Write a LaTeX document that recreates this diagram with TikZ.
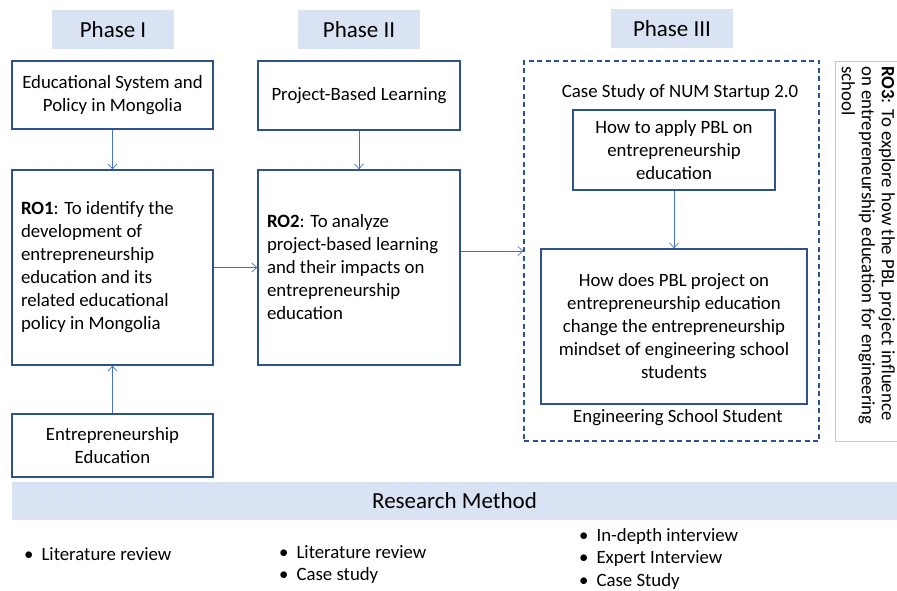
\documentclass[tikz,border=0pt]{standalone}
\usepackage{fontspec}
\setmainfont{Carlito}
\usetikzlibrary{arrows.meta}
\definecolor{azulcaixa}{HTML}{2F528F}
\definecolor{azulseta}{HTML}{4472C4}
\definecolor{azulfase}{HTML}{DAE3F3}
\definecolor{cinzaborda}{HTML}{C8C8C8}
\begin{document}
\begin{tikzpicture}[x=1pt,y=-1pt,
    font=\fontsize{18.8}{23}\selectfont,
    caixa/.style={draw=azulcaixa, line width=1.3pt, fill=white, align=center, inner sep=0pt},
    objetivo/.style={caixa, align=flush left, text width=183pt, inner xsep=9pt},
    fase/.style={fill=azulfase, minimum width=122pt, minimum height=39pt, inner sep=0pt,
                 font=\fontsize{23}{25}\selectfont},
    seta/.style={draw=azulseta, line width=0.7pt, -{Straight Barb[length=5pt,width=9pt]}},
    item/.style={anchor=west, inner sep=0pt}]
    \useasboundingbox (0,0) rectangle (897,591);
    % Fases
    \node[fase] (fase1) at (113,29.5) {Phase I};
    \node[fase] (fase2) at (359,29.5) {Phase II};
    \node[fase] (fase3) at (672,28.5) {Phase III};
    % Fase I
    \node[caixa, minimum width=201pt, minimum height=68pt] (sistema) at (112.5,95)
        {Educational System and\\Policy in Mongolia};
    \node[objetivo, minimum height=195pt] (ro1) at (112.5,267.5)
        {\textbf{RO1}: To identify the\\development of\\entrepreneurship\\education and its\\related educational\\policy in Mongolia};
    \node[caixa, minimum width=201pt, minimum height=63pt] (empreend) at (112.5,445.5)
        {Entrepreneurship\\Education};
    % Fase II
    \node[caixa, minimum width=202pt, minimum height=69pt] (pbl) at (359,95.5)
        {Project-Based Learning};
    \node[objetivo, text width=184pt, minimum height=195pt] (ro2) at (359,267.5)
        {\textbf{RO2}: To analyze\\project-based learning\\and their impacts on\\entrepreneurship\\education};
    % Fase III (estudo de caso)
    \node[draw=azulcaixa, line width=1.3pt, dash pattern=on 5pt off 3.5pt,
          minimum width=295pt, minimum height=380pt] (caso) at (671.5,251) {};
    \node (titulocaso) at (680,92) {Case Study of NUM Startup 2.0};
    \node[caixa, minimum width=202pt, minimum height=80pt] (aplicar) at (674,150)
        {How to apply PBL on\\entrepreneurship\\education};
    \node[caixa, minimum width=266pt, minimum height=155pt] (mentalidade) at (674,326.5)
        {How does PBL project on\\entrepreneurship education\\change the entrepreneurship\\mindset of engineering school\\students};
    \node (estudante) at (678,418) {Engineering School Student};
    % RO3 (texto vertical)
    \draw[cinzaborda, line width=0.8pt] (905,61) -- (835,61) -- (835,441) -- (905,441);
    \node[rotate=-90, anchor=north west, align=flush left, inner sep=0pt,
          font=\fontsize{18.8}{20}\selectfont] (ro3) at (895,66)
        {\textbf{RO3}: To explore how the PBL project influence\\on entrepreneurship education for engineering\\school};
    % Setas
    \draw[seta] (sistema.south) -- (ro1.north);
    \draw[seta] (empreend.north) -- (ro1.south);
    \draw[seta] (pbl.south) -- (ro2.north);
    \draw[seta] (ro1.east) -- (ro2.west);
    \draw[seta] (ro2.east |- caso.west) -- (caso.west);
    \draw[seta] (aplicar.south) -- (mentalidade.north);
    % Metodo de pesquisa
    \node[fill=azulfase, minimum width=885pt, minimum height=38pt, inner sep=0pt,
          font=\fontsize{23}{25}\selectfont] (metodo) at (454.5,501) {Research Method};
    \node[item] (m1a) at (24,554) {\textbullet\hspace{8pt}Literature review};
    \node[item] (m2a) at (279,552) {\textbullet\hspace{8pt}Literature review};
    \node[item] (m2b) at (279,575) {\textbullet\hspace{8pt}Case study};
    \node[item] (m3a) at (579,536) {\textbullet\hspace{8pt}In-depth interview};
    \node[item] (m3b) at (579,559) {\textbullet\hspace{8pt}Expert Interview};
    \node[item] (m3c) at (579,581) {\textbullet\hspace{8pt}Case Study};
\end{tikzpicture}
\end{document}
